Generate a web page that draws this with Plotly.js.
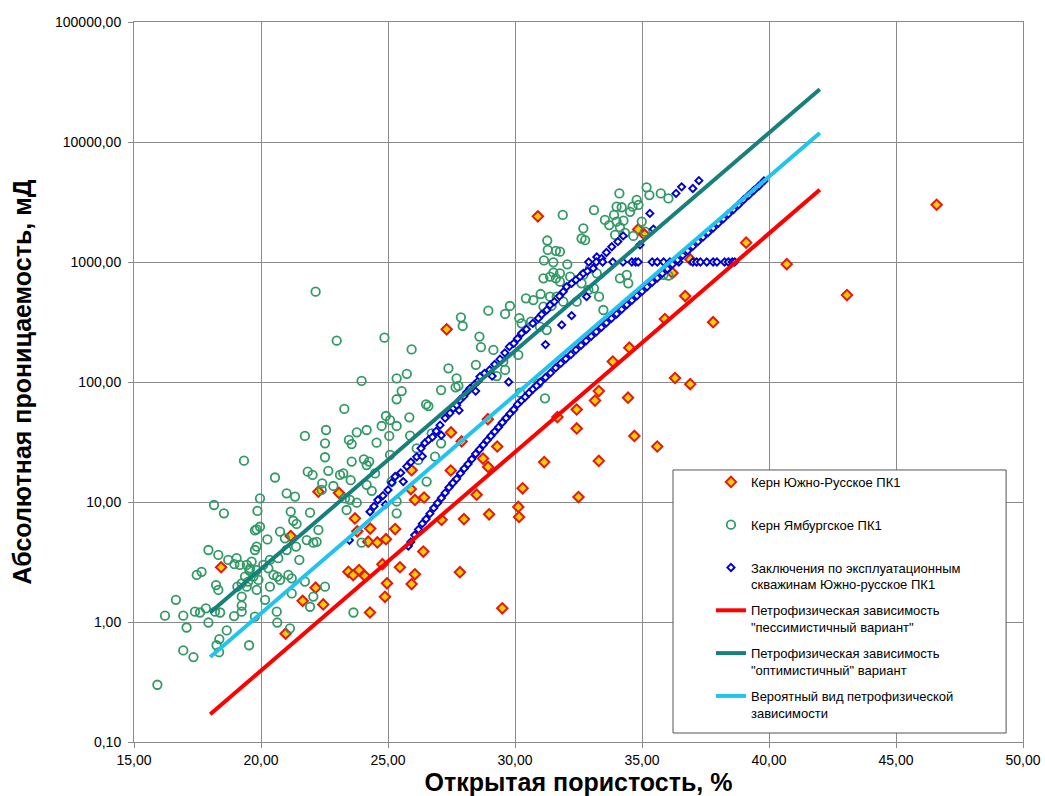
<!DOCTYPE html>
<html>
<head>
<meta charset="utf-8">
<script src="https://cdn.plot.ly/plotly-3.0.1.min.js"></script>
<style>
html,body{margin:0;padding:0;background:#fff;}
#chart{width:1045px;height:796px;}
</style>
</head>
<body>
<div id="chart"></div>
<script>
// ---- axis ticks ----
const xTickVals = [15, 20, 25, 30, 35, 40, 45, 50];
const xTickText = ["15,00", "20,00", "25,00", "30,00", "35,00", "40,00", "45,00", "50,00"];
const yTickVals = [0.1, 1, 10, 100, 1000, 10000, 100000];
const yTickText = ["0,10", "1,00", "10,00", "100,00", "1000,00", "10000,00", "100000,00"];

// ---- Керн Южно-Русское ПК1 ----
const southCoreX = [18.43,20.97,21.17,21.64,22.15,22.26,22.45,23.07,23.44,23.63,23.70,23.79,23.86,24.09,24.22,24.29,24.30,24.58,24.78,24.88,24.92,24.96,25.28,25.47,25.90,25.93,25.93,26.06,26.06,26.39,26.42,27.11,27.31,27.47,27.48,27.83,27.90,27.99,28.49,28.74,28.93,28.94,28.98,29.30,29.50,30.13,30.16,30.30,30.90,31.15,31.67,32.43,32.43,32.50,33.15,33.30,33.30,33.85,34.45,34.50,34.70,34.85,35.10,35.60,35.90,36.20,36.30,36.70,36.90,36.90,37.80,39.10,40.70,43.07,46.60];
const southCoreY = [2.86,0.80,5.2,1.5,1.93,12.2,1.4,11.9,2.62,2.46,7.3,5.7,2.71,2.42,4.67,1.2,6.0,4.6,3.03,1.62,4.9,2.1,5.95,2.86,12.8,18.4,2.07,10.4,2.5,3.86,10.9,7.1,275,18.3,38,2.6,32,7.2,11.5,23,49,19.6,7.9,29,1.3,9.1,7.5,13,2400,21.5,51,59,41,11,70,84,22,148,74,193,35.5,1870,1690,29,335,810,108,520,1050,96,315,1450,960,530,3000];

// ---- Керн Ямбургское ПК1 ----
const yamburgX = [19.33,20.55,22.52,23.57,24.05,24.16,24.26,21.84,22.03,22.65,23.11,23.24,23.53,24.16,24.49,25.08,21.01,21.34,22.41,22.39,22.85,23.31,23.50,23.77,23.37,24.36,25.14,25.34,18.15,18.54,19.96,19.86,19.83,19.96,19.76,20.75,21.17,21.27,21.40,21.93,22.26,21.80,22.06,22.19,20.25,20.94,21.38,21.51,21.01,20.68,17.93,18.32,18.71,18.95,19.04,19.17,19.44,19.57,19.83,19.76,19.63,19.54,19.83,20.09,20.29,20.35,20.49,20.64,20.75,21.08,21.21,19.37,19.24,19.50,19.70,19.90,19.07,19.24,19.44,17.47,17.66,18.23,18.32,19.83,20.16,20.35,21.21,21.73,22.06,21.93,22.52,16.65,16.22,16.94,17.40,17.60,17.83,18.19,18.39,17.07,17.93,18.94,19.24,19.24,19.76,20.62,20.64,21.14,18.65,18.36,18.25,18.35,16.94,17.34,19.53,23.64,23.96,25.34,26.52,26.85,15.92,
  22.98,24.86,25.93,23.96,25.34,25.74,25.54,25.34,23.28,26.50,26.59,27.09,27.38,27.70,27.77,27.66,27.87,27.94,28.95,29.61,29.80,30.17,30.26,30.63,28.60,28.66,29.15,29.54,29.61,28.46,30.13,29.02,29.28,24.92,25.08,25.34,25.84,24.75,25.05,24.55,24.16,23.77,23.46,23.57,22.56,22.52,21.73,27.09,30.20,31.18,25.87,26.13,26.72,26.19,22.15,
  35.18,35.29,35.74,36.04,34.11,34.79,34.63,34.86,34.53,33.11,31.88,34.00,34.20,33.90,33.54,33.71,34.00,34.27,34.13,34.33,33.94,34.66,32.69,32.62,32.76,31.27,31.29,31.61,31.77,31.14,31.51,32.06,31.77,31.51,31.38,31.61,31.12,31.77,32.17,32.69,32.95,33.22,32.62,32.89,33.11,33.31,33.48,34.40,34.13,34.46,30.43,30.72,31.01,31.38,31.64,31.12,31.44,31.90,32.43,30.98,31.25,30.92,35.84,36.04,34.99,35.12];
const yamburgY = [22.1,16.0,23.6,21.7,22.7,20.3,21.7,17.9,16.8,18.2,16.8,17.3,15.2,13.9,17.3,24.7,11.8,11.1,14.3,12.6,13.6,10.7,10.4,9.87,8.58,12.4,14.8,10.1,9.44,8.05,10.7,8.42,5.91,6.22,5.8,5.66,8.3,6.98,6.56,8.15,5.85,4.82,4.58,4.66,4.88,4.98,4.25,3.29,3.98,3.4,3.98,3.62,3.29,3.04,3.4,2.99,2.99,2.8,4.25,3.98,3.18,2.68,2.71,2.99,2.8,3.29,2.47,2.39,2.24,2.47,2.31,2.39,2.1,2.17,2.39,2.24,1.97,1.63,1.97,2.47,2.62,2.03,1.85,1.85,1.53,1.97,1.73,2.17,1.63,1.34,1.97,1.53,1.13,1.13,1.22,1.20,1.30,1.22,1.20,0.90,0.99,1.12,1.37,1.22,1.11,1.22,0.99,0.885,0.85,0.72,0.64,0.56,0.58,0.51,0.64,1.20,4.58,8.05,14.8,23.9,0.30,
  221,234,187,102,107,117,84,71.8,59.6,65.2,63,85.7,130,107,92.7,90.3,346,293,393,369,430,340,308,318,239,195,185,148,126,139,168,120,112,52.1,48.2,43,50.8,43,35.5,31.2,39.8,38.1,32.9,30.4,39.8,30.8,35.5,30.8,81.5,73.1,35.7,28,37.3,22.4,566,
  4190,3610,3730,3390,3730,3290,2890,2990,2620,2710,2470,2890,2860,2470,2240,2030,2170,2210,1950,1750,1680,1650,1910,1570,1520,1510,1260,1240,1220,1030,994,957,805,815,755,731,731,686,755,780,886,805,664,585,604,514,398,780,731,664,498,482,541,514,514,425,431,467,467,289,271,97.5,780,770,2170,1790];

// ---- Заключения по эксплуатационным скважинам ----
const wellsX = [23.48,24.29,24.45,24.60,24.80,24.90,25.00,25.15,25.28,25.50,25.60,25.74,25.90,26.13,26.30,26.35,26.45,26.60,26.75,26.90,27.05,27.10,27.25,27.44,27.57,27.70,27.80,27.83,27.98,28.10,28.23,28.40,28.45,28.55,28.62,28.80,29.00,29.10,29.20,29.41,29.60,29.78,29.95,30.10,30.26,30.45,30.70,30.92,31.05,31.25,31.38,31.55,31.75,31.90,32.03,32.23,32.40,32.56,32.69,32.85,33.08,33.22,33.41,33.60,33.81,34.05,34.26,
  29.75,31.20,31.84,32.23,32.82,34.92,35.31,35.45,36.34,36.56,37.00,37.24,
  32.90,33.20,33.45,33.85,34.25,34.60,34.75,34.85,35.40,35.60,35.85,36.10,36.45,37.00,37.15,37.30,37.55,37.80,37.95,38.25,38.40,38.55,38.65,
  25.80,25.90,26.05,26.20,26.35,26.50,26.65,26.80,26.95,27.10,27.25,27.40,27.55,27.70,27.85,28.00,28.15,28.30,28.45,28.60,28.75,28.90,29.05,29.20,29.35,29.50,29.65,29.80,29.95,30.10,30.25,30.40,30.55,30.70,30.85,31.00,31.20,31.40,31.60,31.80,32.00,32.20,32.40,32.60,32.80,33.00,33.20,33.40,33.60,33.80,34.00,34.20,34.40,34.60,34.80,35.00,35.20,35.40,35.60,35.80,36.00,36.20,36.40,36.60,36.80,37.00,37.20,37.40,37.60,37.80,38.00,38.20,38.40,38.60,38.80,39.00,39.20,39.40,39.60,39.80];
const wellsY = [4.8,8.3,9.2,10.4,11.3,9.5,12.6,14.5,16.3,17.5,14.8,19.8,21.5,23.8,28,24,31,33,34.8,39,43.7,36,50,55,60.4,64,58,70.8,76,82,88.5,95,84,102,111,118,126,112,140,155,175,197,210,230,255,275,308,340,365,398,438,467,520,566,622,664,710,755,805,840,886,1100,1070,1200,1340,1480,1650,
  100,205,299,357,514,1390,2540,1880,3730,4230,4100,4760,
  1000,1000,1000,1000,1000,1000,1000,1000,1000,1000,1000,1000,1000,1000,1000,1000,1000,1000,1000,1000,1000,1000,1000,
  4.3,4.65,5.3,5.9,6.6,7.2,8.0,8.9,9.8,10.8,11.9,13.2,14.4,15.6,17.3,19.0,20.7,22.8,25.2,27.4,29.9,32.6,35.5,38.6,42,46,50,54.5,59,65,70,75,81,87,93,100,109,119,131,143,156,169,185,202,220,240,262,285,311,339,369,403,440,479,522,569,621,676,736,803,875,957,1040,1135,1240,1350,1480,1610,1760,1920,2100,2290,2510,2740,3000,3300,3600,3940,4300,4730];

// ---- петрофизические зависимости (прямые в логарифмическом масштабе) ----
const trendX = [18, 42];
const pessimisticY = [0.17, 4000];
const optimisticY = [1.2, 27500];
const probableY = [0.51, 11900];

const FONT = "Liberation Sans, Arial, Helvetica, sans-serif";
const BLANK = "<br>\u00a0";

const traces = [
  {x: southCoreX, y: southCoreY, type: "scatter", mode: "markers", name: "Керн Южно-Русское ПК1" + BLANK, legendgroup: "g1",
   marker: {symbol: "diamond", size: 8, color: "#FFCC00", line: {color: "#E01B12", width: 2}}},
  {x: yamburgX, y: yamburgY, type: "scatter", mode: "markers", name: "Керн Ямбургское ПК1" + BLANK, legendgroup: "g2",
   marker: {symbol: "circle", size: 8.5, color: "rgba(0,0,0,0)", line: {color: "#339966", width: 1.8}}},
  {x: wellsX, y: wellsY, type: "scatter", mode: "markers", name: "Заключения по эксплуатационным<br>скважинам Южно-русское ПК1", legendgroup: "g3",
   marker: {symbol: "diamond", size: 5.5, color: "#ffffff", line: {color: "#0000CC", width: 1.9}}},
  {x: trendX, y: pessimisticY, type: "scatter", mode: "lines", name: "Петрофизическая зависимость<br>\"пессимистичный вариант\"", legendgroup: "g4",
   line: {color: "#FF0000", width: 4}},
  {x: trendX, y: optimisticY, type: "scatter", mode: "lines", name: "Петрофизическая зависимость<br>\"оптимистичный\" вариант", legendgroup: "g5",
   line: {color: "#17807A", width: 4}},
  {x: trendX, y: probableY, type: "scatter", mode: "lines", name: "Вероятный вид петрофизической<br>зависимости", legendgroup: "g6",
   line: {color: "#22C4EE", width: 4}}
];

const axisCommon = {
  showgrid: true, gridcolor: "#8a8a8a", gridwidth: 1,
  showline: true, linecolor: "#8a8a8a", linewidth: 1, mirror: true,
  ticks: "outside", ticklen: 5, tickcolor: "#8a8a8a", tickwidth: 1,
  zeroline: false, automargin: false,
  tickfont: {family: FONT, size: 14, color: "#000"},
  tickmode: "array"
};

const layout = {
  width: 1045, height: 796,
  margin: {l: 134, r: 22, t: 22, b: 54, pad: 0},
  paper_bgcolor: "#ffffff", plot_bgcolor: "#ffffff",
  font: {family: FONT, color: "#000"},
  showlegend: true,
  xaxis: Object.assign({}, axisCommon, {
    range: [15, 50], tickvals: xTickVals, ticktext: xTickText,
    title: {text: "<b>Открытая пористость, %</b>", font: {family: FONT, size: 25, color: "#000"}, standoff: 1}
  }),
  yaxis: Object.assign({}, axisCommon, {
    type: "log", range: [-1, 5], tickvals: yTickVals, ticktext: yTickText,
    ticklabelstandoff: 4,
    title: {text: "<b>Абсолютная проницаемость, мД</b>", font: {family: FONT, size: 25, color: "#000"}, standoff: 16}
  }),
  legend: {
    x: 0.649, y: 0.382, xanchor: "left", yanchor: "top",
    bgcolor: "rgba(0,0,0,0)", borderwidth: 0,
    font: {family: FONT, size: 13, color: "#000"},
    tracegroupgap: 6, valign: "top"
  },
  shapes: [{
    type: "rect", xref: "paper", yref: "paper", layer: "above",
    x0: 0.6063, x1: 0.981, y0: 0.0125, y1: 0.3778,
    line: {color: "#555555", width: 1}, fillcolor: "#ffffff"
  }]
};

Plotly.newPlot("chart", traces, layout, {displayModeBar: false, staticPlot: true});
</script>
</body>
</html>
